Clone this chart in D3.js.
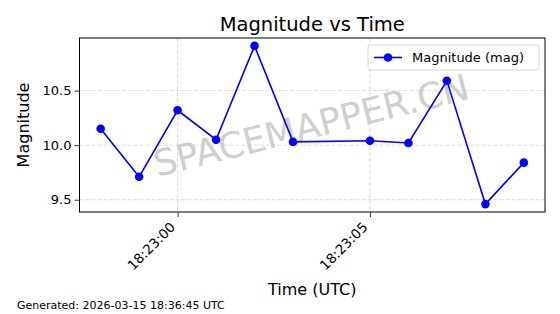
<!DOCTYPE html>
<html>
<head>
<meta charset="utf-8">
<script src="https://cdn.jsdelivr.net/npm/d3@7"></script>
<style>
  body { margin: 0; background: #fff; }
  text { font-family: "DejaVu Sans", sans-serif; }
</style>
</head>
<body>
<div class="chart"></div>
<script>
// observation times (UTC) and magnitudes
let times = ["18:22:58", "18:22:59", "18:23:00", "18:23:01", "18:23:02", "18:23:03",
             "18:23:05", "18:23:06", "18:23:07", "18:23:08", "18:23:09"]
let mags = [10.15, 9.71, 10.32, 10.05, 10.91, 10.03, 10.04, 10.02, 10.59, 9.46, 9.84]
let xTickLabels = ["18:23:00", "18:23:05"]
let yTickValues = [9.5, 10.0, 10.5]

let parseT = d3.timeParse("%H:%M:%S")
let data = times.map((t, i) => ({ t: parseT(t), m: mags[i] }))

let w = 560
let h = 314
let padL = 79.5, padR = 545, padT = 38, padB = 212

let svg = d3.select(".chart")
  .append("svg")
  .attr("width", w)
  .attr("height", h)

// matplotlib style 5% margins
let tExt = d3.extent(data, d => d.t)
let tPad = (tExt[1] - tExt[0]) * 0.05
let mExt = d3.extent(data, d => d.m)
let mPad = (mExt[1] - mExt[0]) * 0.05

const xScale = d3.scaleTime()
  .domain([new Date(+tExt[0] - tPad), new Date(+tExt[1] + tPad)])
  .range([padL, padR])
const yScale = d3.scaleLinear()
  .domain([mExt[0] - mPad, mExt[1] + mPad])
  .range([padB, padT])

let xTicks = xTickLabels.map(parseT)

// grid
svg.append("g")
  .selectAll("line")
  .data(xTicks)
  .enter()
  .append("line")
  .attr("x1", d => xScale(d)).attr("x2", d => xScale(d))
  .attr("y1", padT).attr("y2", padB)
  .attr("stroke", "#d0d0d0").attr("stroke-width", 0.8).attr("stroke-dasharray", "4,2")
svg.append("g")
  .selectAll("line")
  .data(yTickValues)
  .enter()
  .append("line")
  .attr("x1", padL).attr("x2", padR)
  .attr("y1", d => yScale(d)).attr("y2", d => yScale(d))
  .attr("stroke", "#d0d0d0").attr("stroke-width", 0.8).attr("stroke-dasharray", "4,2")

// watermark
svg.append("text")
  .text("SPACEMAPPER.CN")
  .attr("x", 0).attr("y", 0)
  .attr("transform", "translate(312,128) rotate(-14)")
  .attr("text-anchor", "middle")
  .attr("dominant-baseline", "middle")
  .style("font-size", "36px")
  .style("fill", "#c4c4c4")
  .style("opacity", 0.8)

// axes
const xAxis = d3.axisBottom(xScale)
  .tickValues(xTicks)
  .tickFormat(d3.timeFormat("%H:%M:%S"))
  .tickSizeOuter(0)
  .tickSize(5)
let gx = svg.append("g")
  .attr("transform", "translate(0," + padB + ")")
  .call(xAxis)
gx.select(".domain").remove()
gx.selectAll("line").attr("stroke", "#000").attr("stroke-width", 0.8)
gx.selectAll("text")
  .style("font-size", "13.5px")
  .attr("text-anchor", "end")
  .attr("dy", null)
  .attr("y", 0)
  .attr("transform", "translate(-2,16) rotate(-45)")

const yAxis = d3.axisLeft(yScale)
  .tickValues(yTickValues)
  .tickFormat(d3.format(".1f"))
  .tickSizeOuter(0)
  .tickSize(5)
let gy = svg.append("g")
  .attr("transform", "translate(" + padL + ",0)")
  .call(yAxis)
gy.select(".domain").remove()
gy.selectAll("line").attr("stroke", "#000").attr("stroke-width", 0.8)
gy.selectAll("text").style("font-size", "13px").attr("x", -8)

// frame
svg.append("rect")
  .attr("x", padL).attr("y", padT)
  .attr("width", padR - padL).attr("height", padB - padT)
  .attr("fill", "none").attr("stroke", "#000").attr("stroke-width", 1)

// line + dots
let line = d3.line().x(d => xScale(d.t)).y(d => yScale(d.m))
svg.append("path")
  .datum(data)
  .attr("d", line)
  .attr("fill", "none")
  .attr("stroke", "#0000ff")
  .attr("stroke-width", 1.6)
svg.selectAll(".dot")
  .data(data)
  .enter()
  .append("circle")
  .attr("class", "dot")
  .attr("r", 4.3)
  .attr("cx", d => xScale(d.t))
  .attr("cy", d => yScale(d.m))
  .style("fill", "#0000ff")

// legend
let lg = svg.append("g").attr("transform", "translate(368,45)")
lg.append("rect")
  .attr("width", 171).attr("height", 25).attr("rx", 2)
  .attr("fill", "#fff").attr("fill-opacity", 0.8)
  .attr("stroke", "#cccccc").attr("stroke-width", 0.8)
lg.append("line")
  .attr("x1", 6).attr("x2", 34).attr("y1", 12.5).attr("y2", 12.5)
  .attr("stroke", "#0000ff").attr("stroke-width", 1.6)
lg.append("circle").attr("cx", 20).attr("cy", 12.5).attr("r", 4.3).style("fill", "#0000ff")
lg.append("text")
  .text("Magnitude (mag)")
  .attr("x", 44).attr("y", 17)
  .style("font-size", "13px")

// titles
svg.append("text")
  .text("Magnitude vs Time")
  .attr("x", (padL + padR) / 2)
  .attr("y", 31)
  .attr("text-anchor", "middle")
  .style("font-size", "19.5px")
svg.append("text")
  .text("Time (UTC)")
  .attr("x", (padL + padR) / 2)
  .attr("y", 295)
  .attr("text-anchor", "middle")
  .style("font-size", "16px")
svg.append("text")
  .text("Magnitude")
  .attr("transform", "translate(29," + (padT + padB) / 2 + ") rotate(-90)")
  .attr("text-anchor", "middle")
  .style("font-size", "16px")
svg.append("text")
  .text("Generated: 2026-03-15 18:36:45 UTC")
  .attr("x", 17)
  .attr("y", 309)
  .style("font-size", "11px")
</script>
</body>
</html>
